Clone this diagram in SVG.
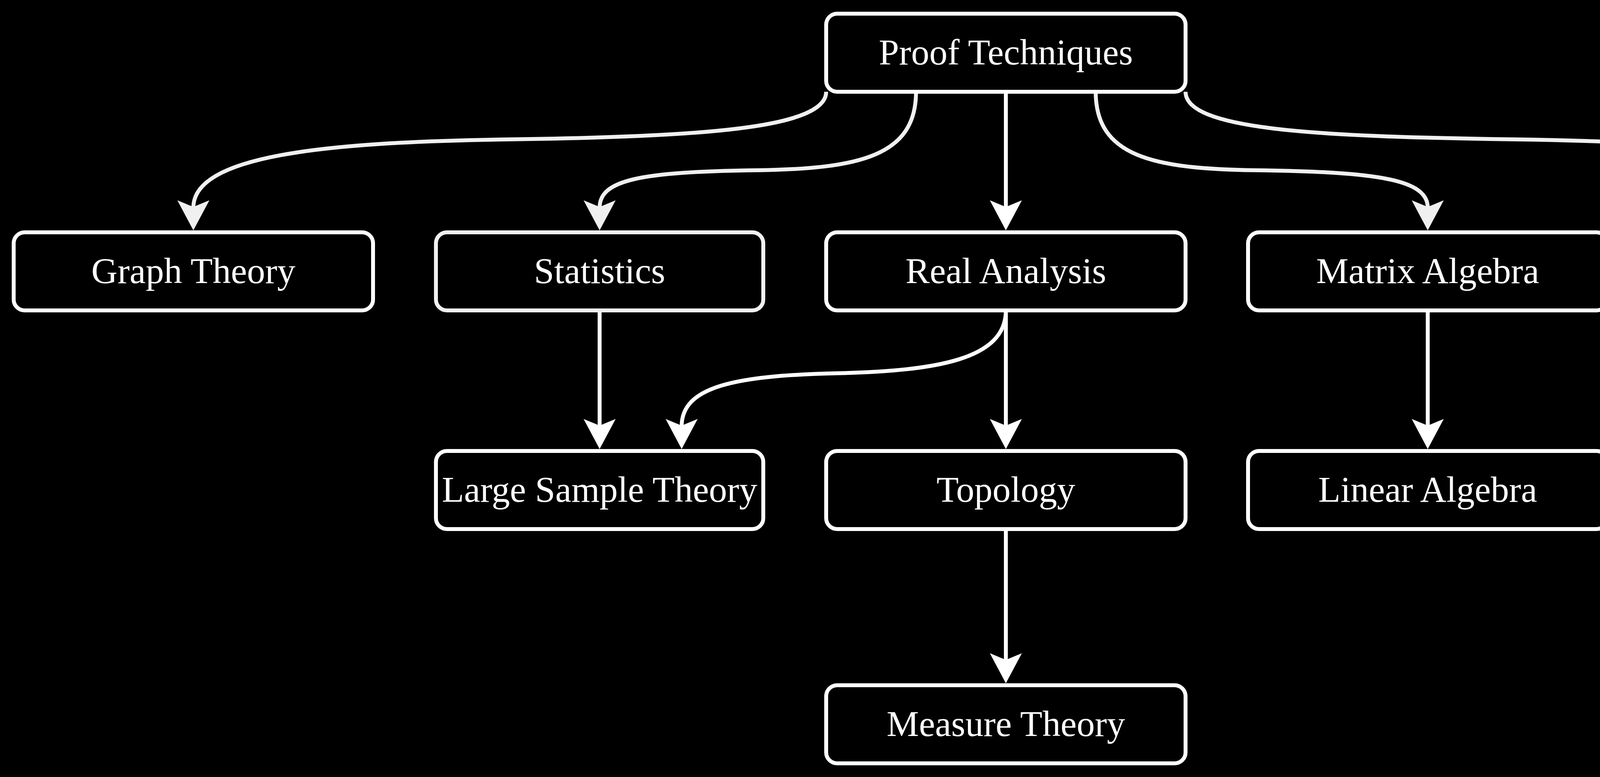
<svg xmlns="http://www.w3.org/2000/svg" width="5230" height="1990" viewBox="0 0 5230 1990">
  <style>
    .node rect { fill: #000000; stroke: #ffffff; stroke-width: 10; }
    .node.soft rect { stroke: #f0f0f0; }
    .node text { fill: #ffffff; font-family: "Liberation Serif", "Times New Roman", serif; font-size: 93px; text-anchor: middle; }
    .edge { fill: none; stroke-width: 10; }
    .w { stroke: #ffffff; marker-end: url(#arrW); }
    .g { stroke: #f0f0f0; marker-end: url(#arrG); }
  </style>
  <defs>
    <marker id="arrW" markerUnits="userSpaceOnUse" viewBox="0 -41 77 82" markerWidth="77" markerHeight="82" refX="19" refY="0" orient="auto">
      <path d="M0,-41 L77,0 L0,41 L17,0 Z" fill="#ffffff"/>
    </marker>
    <marker id="arrG" markerUnits="userSpaceOnUse" viewBox="0 -41 77 82" markerWidth="77" markerHeight="82" refX="19" refY="0" orient="auto">
      <path d="M0,-41 L77,0 L0,41 L17,0 Z" fill="#f0f0f0"/>
    </marker>
  </defs>
  <rect x="0" y="0" width="5230" height="1990" fill="#000000"/>
  <g id="connectors">
    <path class="edge g" d="M2115,235 C2115,330 1790,350 1300,357 C820,364 495,400 495,532"/>
    <path class="edge g" d="M2345,235 C2345,400 2200,432 1940,436 C1640,440 1535,460 1535,532"/>
    <path class="edge w" d="M2575,235 L2575,532"/>
    <path class="edge g" d="M2805,235 C2805,400 2950,432 3210,436 C3530,440 3655,460 3655,532"/>
    <path class="edge g" d="M3035,235 C3035,330 3350,350 3880,357 C4420,365 4736,400 4736,532"/>
    <path class="edge w" d="M1535,795 L1535,1092"/>
    <path class="edge w" d="M2575,795 C2575,920 2400,950 2142,956 C1880,962 1745,990 1745,1092"/>
    <path class="edge w" d="M2575,795 L2575,1092"/>
    <path class="edge w" d="M3655,795 L3655,1092"/>
    <path class="edge w" d="M2575,1355 L2575,1692"/>
  </g>
  <g id="proof-techniques" class="node">
    <rect x="2115" y="35" width="920" height="200" rx="28" ry="28"/>
    <text x="2575" y="165">Proof Techniques</text>
  </g>
  <g id="graph-theory" class="node">
    <rect x="35" y="595" width="920" height="200" rx="28" ry="28"/>
    <text x="495" y="725">Graph Theory</text>
  </g>
  <g id="statistics" class="node soft">
    <rect x="1116" y="595" width="838" height="200" rx="28" ry="28"/>
    <text x="1535" y="725">Statistics</text>
  </g>
  <g id="real-analysis" class="node">
    <rect x="2115" y="595" width="920" height="200" rx="28" ry="28"/>
    <text x="2575" y="725">Real Analysis</text>
  </g>
  <g id="matrix-algebra" class="node">
    <rect x="3195" y="595" width="920" height="200" rx="28" ry="28"/>
    <text x="3655" y="725">Matrix Algebra</text>
  </g>
  <g id="optimization" class="node">
    <rect x="4276" y="595" width="920" height="200" rx="28" ry="28"/>
    <text x="4736" y="725">Optimization</text>
  </g>
  <g id="large-sample-theory" class="node">
    <rect x="1116" y="1155" width="838" height="200" rx="28" ry="28"/>
    <text x="1535" y="1285">Large Sample Theory</text>
  </g>
  <g id="topology" class="node">
    <rect x="2115" y="1155" width="920" height="200" rx="28" ry="28"/>
    <text x="2575" y="1285">Topology</text>
  </g>
  <g id="linear-algebra" class="node">
    <rect x="3195" y="1155" width="920" height="200" rx="28" ry="28"/>
    <text x="3655" y="1285">Linear Algebra</text>
  </g>
  <g id="measure-theory" class="node">
    <rect x="2115" y="1755" width="920" height="200" rx="28" ry="28"/>
    <text x="2575" y="1885">Measure Theory</text>
  </g>
</svg>
